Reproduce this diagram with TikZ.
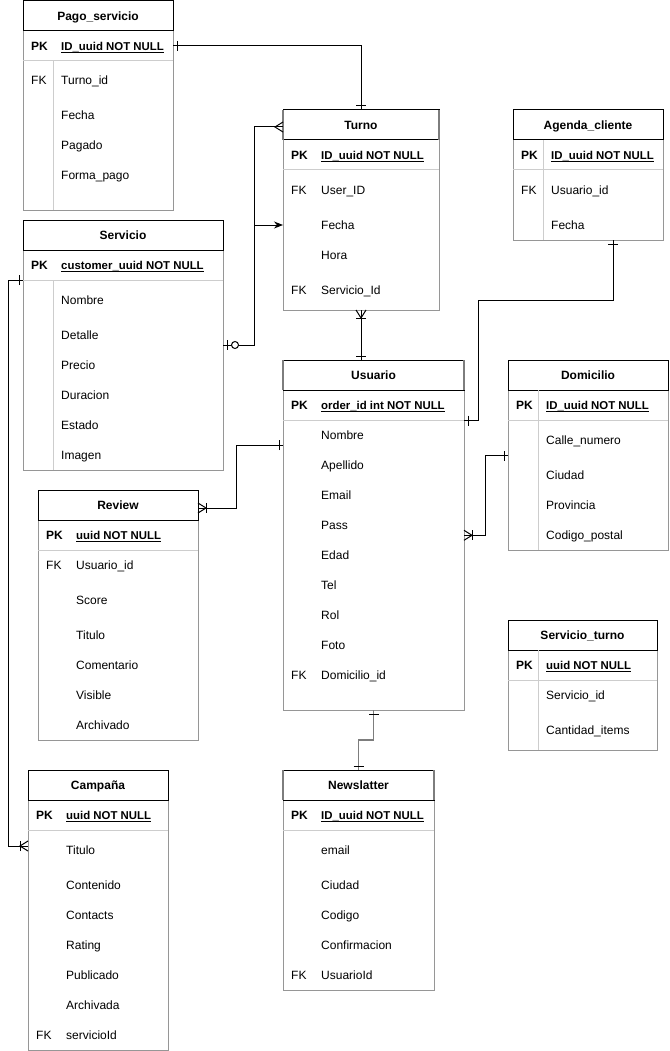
\documentclass[tikz,border=0pt]{standalone}
\usepackage{fontspec}
\setmainfont{Liberation Sans}
\usetikzlibrary{arrows.meta,calc}
\definecolor{bline}{RGB}{150,150,150}
\definecolor{sline}{RGB}{205,205,205}
\definecolor{selgray}{RGB}{125,125,125}
\newcommand{\pkul}[1]{{\fontsize{11.4}{14}\selectfont\bfseries\setbox0\hbox{#1}\rlap{\rule[-1.7pt]{\wd0}{0.9pt}}\box0}}
\newcommand{\errow}[5]{%
  \node[cellt] (#1-k) at (#2+8,#3+4.8) {#4};
  \node[cellt] (#1) at (#2+38,#3+4.8) {#5};}
\newcommand{\ertable}[6]{% name, left, top, right, bottom, title
  \node[bodybox, minimum width=#4-#2, minimum height=#5-#3-30, anchor=north west] (#1B) at (#2,#3+30) {};
  \node[hdrbox, minimum width=#4-#2, anchor=north west] (#1H) at (#2,#3) {};
  \node[titlet] (#1T) at ({(#2+#4)/2},#3+19.8) {#6};
  \draw[sepline] (#2,#3+60) -- (#4,#3+60);}
\begin{document}
\begin{tikzpicture}[x=1pt,y=-1pt,
  hdrbox/.style={draw=black, line width=1pt, minimum height=30pt, inner sep=0pt, outer sep=0pt},
  bodybox/.style={draw=bline, line width=1pt, inner sep=0pt, outer sep=0pt},
  titlet/.style={font=\fontsize{12}{14}\selectfont\bfseries, anchor=base, inner sep=0pt},
  cellt/.style={font=\fontsize{12}{14}\selectfont, anchor=base west, inner sep=0pt},
  sepline/.style={draw=sline, line width=1pt},
  selside/.style={draw=selgray, line width=1.8pt},
  conn/.style={draw=black, line width=1pt},
  selconn/.style={draw=selgray, line width=1.8pt},
  erbar/.pic={\draw[conn] (4,-5) -- (4,5);},
  ermany/.pic={\draw[conn] (0,-5) -- (8,0) -- (0,5);},
  eronemany/.pic={\draw[conn] (0,-5) -- (8,0) -- (0,5); \draw[conn] (8,-5) -- (8,5);},
  erzeroone/.pic={\draw[conn] (4,-5) -- (4,5); \draw[conn, fill=white] (12,0) circle (3.5pt);}
]
\fill[white] (0,0) rectangle (669,1051);
\useasboundingbox (0,0) rectangle (669,1051);

% ---------- Pago_servicio
\ertable{pago}{23}{1}{173}{210}{Pago\_servicio}
\draw[sepline] (53,61) -- (53,210);
\errow{pago1}{23}{46}{\textbf{PK}}{\pkul{ID\_uuid NOT NULL}}
\errow{pago2}{23}{80}{FK}{Turno\_id}
\errow{pago3}{23}{115}{}{Fecha}
\errow{pago4}{23}{145}{}{Pagado}
\errow{pago5}{23}{175}{}{Forma\_pago}

% ---------- Servicio
\ertable{servicio}{23}{220}{223}{470}{Servicio}
\draw[sepline] (53,280) -- (53,470);
\errow{serv1}{23}{265}{\textbf{PK}}{\pkul{customer\_uuid NOT NULL}}
\errow{serv2}{23}{300}{}{Nombre}
\errow{serv3}{23}{335}{}{Detalle}
\errow{serv4}{23}{365}{}{Precio}
\errow{serv5}{23}{395}{}{Duracion}
\errow{serv6}{23}{425}{}{Estado}
\errow{serv7}{23}{455}{}{Imagen}

% ---------- Turno
\ertable{turno}{283}{110}{439}{310}{Turno}
\errow{turno1}{283}{155}{\textbf{PK}}{\pkul{ID\_uuid NOT NULL}}
\errow{turno2}{283}{190}{FK}{User\_ID}
\errow{turno3}{283}{225}{}{Fecha}
\errow{turno4}{283}{255}{}{Hora}
\errow{turno5}{283}{290}{FK}{Servicio\_Id}

% ---------- Agenda_cliente
\ertable{agenda}{513}{110}{663}{240}{Agenda\_cliente}
\draw[sepline] (543,140) -- (543,240);
\errow{agenda1}{513}{155}{\textbf{PK}}{\pkul{ID\_uuid NOT NULL}}
\errow{agenda2}{513}{190}{FK}{Usuario\_id}
\errow{agenda3}{513}{225}{}{Fecha}

% ---------- Usuario
\ertable{usuario}{283}{360}{464}{710}{Usuario}
\errow{usu1}{283}{405}{\textbf{PK}}{\pkul{order\_id int NOT NULL}}
\errow{usu2}{283}{435}{}{Nombre}
\errow{usu3}{283}{465}{}{Apellido}
\errow{usu4}{283}{495}{}{Email}
\errow{usu5}{283}{525}{}{Pass}
\errow{usu6}{283}{555}{}{Edad}
\errow{usu7}{283}{585}{}{Tel}
\errow{usu8}{283}{615}{}{Rol}
\errow{usu9}{283}{645}{}{Foto}
\errow{usu10}{283}{675}{FK}{Domicilio\_id}

% ---------- Domicilio
\ertable{domicilio}{508}{360}{668}{550}{Domicilio}
\draw[sepline] (538,390) -- (538,550);
\errow{dom1}{508}{405}{\textbf{PK}}{\pkul{ID\_uuid NOT NULL}}
\errow{dom2}{508}{440}{}{Calle\_numero}
\errow{dom3}{508}{475}{}{Ciudad}
\errow{dom4}{508}{505}{}{Provincia}
\errow{dom5}{508}{535}{}{Codigo\_postal}

% ---------- Servicio_turno
\ertable{servturno}{508}{620}{657}{750}{Servicio\_turno}
\draw[sepline] (538,650) -- (538,750);
\errow{st1}{508}{665}{\textbf{PK}}{\pkul{uuid NOT NULL}}
\errow{st2}{508}{695}{}{Servicio\_id}
\errow{st3}{508}{730}{}{Cantidad\_items}

% ---------- Review
\ertable{review}{38}{490}{198}{740}{Review}
\errow{rev1}{38}{535}{\textbf{PK}}{\pkul{uuid NOT NULL}}
\errow{rev2}{38}{565}{FK}{Usuario\_id}
\errow{rev3}{38}{600}{}{Score}
\errow{rev4}{38}{635}{}{Titulo}
\errow{rev5}{38}{665}{}{Comentario}
\errow{rev6}{38}{695}{}{Visible}
\errow{rev7}{38}{725}{}{Archivado}

% ---------- Campaña
\ertable{campana}{28}{770}{168}{1050}{Campaña}
\errow{camp1}{28}{815}{\textbf{PK}}{\pkul{uuid NOT NULL}}
\errow{camp2}{28}{850}{}{Titulo}
\errow{camp3}{28}{885}{}{Contenido}
\errow{camp4}{28}{915}{}{Contacts}
\errow{camp5}{28}{945}{}{Rating}
\errow{camp6}{28}{975}{}{Publicado}
\errow{camp7}{28}{1005}{}{Archivada}
\errow{camp8}{28}{1035}{FK}{servicioId}

% ---------- Newslatter
\ertable{news}{283}{770}{434}{990}{Newslatter}
\errow{news1}{283}{815}{\textbf{PK}}{\pkul{ID\_uuid NOT NULL}}
\errow{news2}{283}{850}{}{email}
\errow{news3}{283}{885}{}{Ciudad}
\errow{news4}{283}{915}{}{Codigo}
\errow{news5}{283}{945}{}{Confirmacion}
\errow{news6}{283}{975}{FK}{UsuarioId}

% selected-looking header sides
\foreach \t in {turno,usuario,news}{
  \draw[selside] (\t H.north west) -- (\t H.south west);
  \draw[selside] (\t H.north east) -- (\t H.south east);
}

% ---------- connectors
% Pago_servicio -- Turno
\coordinate (pagoR) at ([yshift=-15pt]pagoB.north east);
\draw[conn] (pagoR) -| (turnoH.north);
\pic at (pagoR) {erbar};
\pic[rotate=90] at (turnoH.north) {erbar};

% Servicio -- Turno
\coordinate (servR) at ([yshift=-95pt]servicioB.north east);
\coordinate (turnoL) at ([yshift=-2pt]turnoH.west);
\coordinate (turnoF) at ([yshift=-85pt]turnoB.north west);
\draw[conn] (servR) -- ++(31,0) |- (turnoL);
\draw[conn, -{Stealth[length=9pt,width=7pt]}] (servR) -- ++(31,0) |- (turnoF);
\pic at (servR) {erzeroone};
\pic[rotate=180] at (turnoL) {ermany};

% Turno -- Usuario
\coordinate (turnoS) at (turnoB.south);
\coordinate (usrT) at (turnoS |- usuarioH.north);
\draw[conn] (turnoS) -- (usrT);
\pic[rotate=-90] at (turnoS) {eronemany};
\pic[rotate=90] at (usrT) {erbar};

% Agenda_cliente -- Usuario
\coordinate (agS) at ([xshift=25pt]agendaB.south);
\coordinate (usrPK) at ([yshift=-30.5pt]usuarioB.north east);
\draw[conn] (agS) -- ++(0,60.5) -| ([xshift=14pt]usrPK) -- (usrPK);
\pic[rotate=-90] at (agS) {erbar};
\pic at (usrPK) {erbar};

% Usuario -- Review
\coordinate (usrL) at ([yshift=-55pt]usuarioB.north west);
\coordinate (revR) at ([yshift=-3pt]reviewH.east);
\draw[conn] (usrL) -- ++(-47,0) |- (revR);
\pic[rotate=180] at (usrL) {erbar};
\pic at (revR) {eronemany};

% Domicilio -- Usuario
\coordinate (domL) at ([yshift=-65.5pt]domicilioB.north west);
\coordinate (usrR2) at ([yshift=-145.3pt]usuarioB.north east);
\draw[conn] (domL) -- ++(-22.3,0) |- (usrR2);
\pic[rotate=180] at (domL) {erbar};
\pic at (usrR2) {eronemany};

% Servicio -- Campaña
\coordinate (servL) at ([yshift=-30pt]servicioB.north west);
\coordinate (campL) at ([yshift=-46pt]campanaB.north west);
\draw[conn] (servL) -- ++(-15,0) |- (campL);
\pic[rotate=180] at (servL) {erbar};
\pic[rotate=180] at (campL) {eronemany};

% Usuario -- Newslatter
\draw[selconn] (usuarioB.south) -- ++(0,30) -| (newsH.north);
\pic[rotate=-90] at (usuarioB.south) {erbar};
\pic[rotate=90] at (newsH.north) {erbar};
\end{tikzpicture}
\end{document}
